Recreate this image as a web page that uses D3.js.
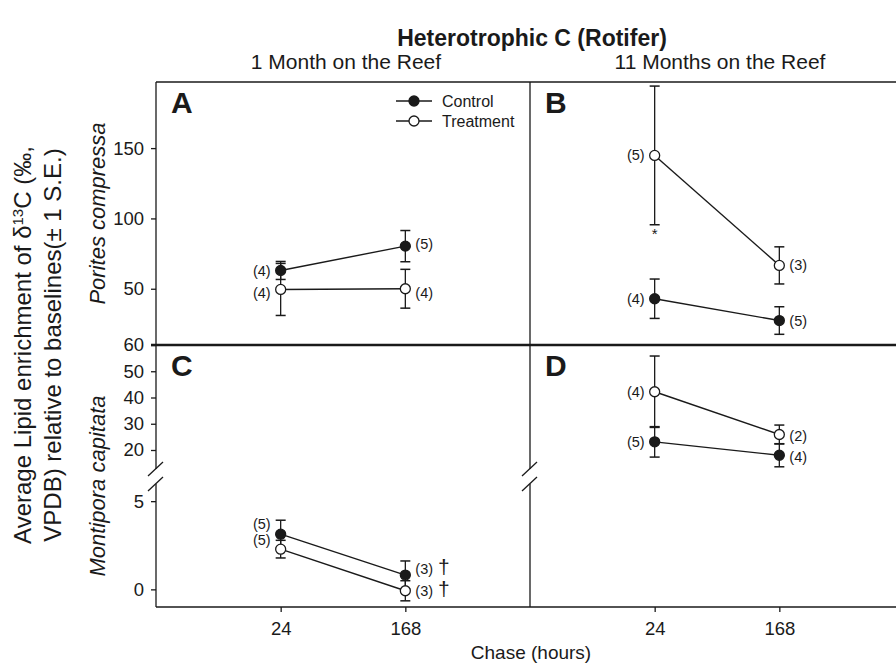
<!DOCTYPE html>
<html>
<head>
<meta charset="utf-8">
<script src="https://cdn.jsdelivr.net/npm/d3@7"></script>
<style>
    body { margin: 0; background: #fff; }
    text { font-family: "Liberation Sans", Arial, Helvetica, sans-serif; fill: #1a1a1a; }
</style>
</head>
<body>
<svg id="chart" width="896" height="666"></svg>
<script>
'use strict';

// chase time categories (hours)
const chaseHours = ["24", "168"];

// A - Porites compressa, 1 month on the reef
const ctrlA = [63.0, 80.3];
const ctrlSeA = [6.4, 11.1];
const trtA = [49.5, 50.0];
const trtSeA = [18.5, 13.8];
const nCtrlA = ["(4)", "(5)"];
const nTrtA = ["(4)", "(4)"];

// B - Porites compressa, 11 months on the reef
const ctrlB = [42.9, 27.4];
const ctrlSeB = [14.0, 9.8];
const trtB = [144.8, 66.6];
const trtSeB = [49.3, 13.2];
const nCtrlB = ["(4)", "(5)"];
const nTrtB = ["(5)", "(3)"];

// C - Montipora capitata, 1 month on the reef
const ctrlC = [3.13, 0.81];
const ctrlSeC = [0.79, 0.80];
const trtC = [2.28, -0.08];
const trtSeC = [0.50, 0.57];
const nCtrlC = ["(5)", "(3) †"];
const nTrtC = ["(5)", "(3) †"];

// D - Montipora capitata, 11 months on the reef
const ctrlD = [23.1, 18.0];
const ctrlSeD = [5.8, 4.4];
const trtD = [42.2, 25.9];
const trtSeD = [13.6, 3.6];
const nCtrlD = ["(5)", "(4)"];
const nTrtD = ["(4)", "(2)"];

// y tick values
const topTicks = [50, 100, 150];
const upperTicks = [20, 30, 40, 50, 60];
const lowerTicks = [0, 5];

const panelLetters = ["A", "B", "C", "D"];
const columnTitles = ["1 Month on the Reef", "11 Months on the Reef"];
const seriesNames = ["Control", "Treatment"];

// layout
const edgeL = 156, edgeM = 530, edgeR = 904;
const edgeT = 82, edgeS = 345, edgeB = 607;
const breakHi = 469, breakLo = 484;
const ink = "#1a1a1a";

const svg = d3.select("#chart");

// scales
const xLeft = d3.scalePoint().domain(chaseHours).range([edgeL, edgeM]).padding(1);
const xRight = d3.scalePoint().domain(chaseHours).range([edgeM, edgeR]).padding(1);
const yTop = d3.scaleLinear().domain([10, 197]).range([edgeS, edgeT]);
const yUpper = d3.scaleLinear().domain([12, 60]).range([471, edgeS]);
const yLower = d3.scaleLinear().domain([-1, 6.2]).range([edgeB, 480]);

// small vertical nudges for the (n) labels, [control, treatment] per panel
const labelNudge = {
    A: [[0, -2], [3, 4]],
    B: [[0, 0], [0, 0]],
    C: [[-10, -6], [-9, 0]],
    D: [[0, 2], [0, 1]]
};

function drawSeries(g, x, y, mean, se, filled, labels, nudge) {
    let pts = chaseHours.map((h, i) => ({h: h, i: i, v: mean[i], se: se[i]}));

    g.append("path")
        .datum(pts)
        .attr("d", d3.line().x(d => x(d.h)).y(d => y(d.v)))
        .style("fill", "none")
        .style("stroke", ink)
        .style("stroke-width", 1.4);

    // error bars
    pts.forEach(d => {
        let cx = x(d.h);
        let y1 = y(d.v + d.se), y2 = y(d.v - d.se);
        g.append("line").attr("x1", cx).attr("x2", cx).attr("y1", y1).attr("y2", y2)
            .style("stroke", ink).style("stroke-width", 1.3);
        [y1, y2].forEach(yy => {
            g.append("line").attr("x1", cx - 5).attr("x2", cx + 5).attr("y1", yy).attr("y2", yy)
                .style("stroke", ink).style("stroke-width", 1.5);
        });
    });

    g.selectAll(null).data(pts).enter().append("circle")
        .attr("cx", d => x(d.h))
        .attr("cy", d => y(d.v))
        .attr("r", 5)
        .style("fill", filled ? ink : "#fff")
        .style("stroke", ink)
        .style("stroke-width", 1.3);

    // sample size labels: left of the 24 h point, right of the 168 h point
    pts.forEach(d => {
        let onLeft = d.i === 0;
        let parts = labels[d.i].split(" ");
        let t = g.append("text")
            .attr("x", x(d.h) + (onLeft ? -10 : 10))
            .attr("y", y(d.v) + nudge[d.i])
            .attr("dy", "0.35em")
            .attr("text-anchor", onLeft ? "end" : "start")
            .style("font-size", "14.5px");
        t.append("tspan").text(parts[0]);
        if (parts[1]) {
            t.append("tspan").attr("dx", 5).style("font-size", "21px").text(parts[1]);
        }
    });
}

function panel(key, x, y, ctrl, ctrlSe, trt, trtSe, nCtrl, nTrt) {
    let g = svg.append("g").attr("class", "panel-" + key);
    drawSeries(g, x, y, ctrl, ctrlSe, true, nCtrl, labelNudge[key][0]);
    drawSeries(g, x, y, trt, trtSe, false, nTrt, labelNudge[key][1]);
    return g;
}

// frame lines
const frame = svg.append("g");
function hline(x1, x2, yy, w) {
    frame.append("line").attr("x1", x1).attr("x2", x2).attr("y1", yy).attr("y2", yy)
        .style("stroke", ink).style("stroke-width", w);
}
function vline(xx, y1, y2, w) {
    frame.append("line").attr("x1", xx).attr("x2", xx).attr("y1", y1).attr("y2", y2)
        .style("stroke", ink).style("stroke-width", w);
}
hline(edgeL, 896, edgeT, 1.3);
hline(edgeL, 896, edgeB, 1.3);
hline(edgeL - 5, 896, edgeS, 2.4);
vline(edgeL, edgeT, breakHi, 1.3);
vline(edgeL, breakLo, edgeB, 1.3);
vline(edgeM, edgeT, breakHi, 1.3);
vline(edgeM, breakLo, edgeB, 1.3);

// axis break marks
[edgeL, edgeM].forEach(xx => {
    [breakHi, breakLo].forEach(yy => {
        frame.append("line")
            .attr("x1", xx - 8).attr("y1", yy + 7)
            .attr("x2", xx + 7).attr("y2", yy - 7)
            .style("stroke", ink).style("stroke-width", 1.3);
    });
});

// axes
function styleAxis(g) {
    g.select(".domain").remove();
    g.selectAll(".tick line").style("stroke", ink).style("stroke-width", 1.3);
    g.selectAll(".tick text").style("font-size", "18.5px").style("fill", ink)
        .style("font-family", "'Liberation Sans', Arial, sans-serif");
}
svg.append("g").attr("transform", `translate(${edgeL},0)`)
    .call(d3.axisLeft(yTop).tickValues(topTicks).tickSize(5).tickPadding(7)).call(styleAxis);
svg.append("g").attr("transform", `translate(${edgeL},0)`)
    .call(d3.axisLeft(yUpper).tickValues(upperTicks).tickSize(5).tickPadding(7)).call(styleAxis);
svg.append("g").attr("transform", `translate(${edgeL},0)`)
    .call(d3.axisLeft(yLower).tickValues(lowerTicks).tickSize(5).tickPadding(7)).call(styleAxis);
[xLeft, xRight].forEach(x => {
    svg.append("g").attr("transform", `translate(0,${edgeB})`)
        .call(d3.axisBottom(x).tickSize(5).tickPadding(10)).call(styleAxis);
});

// data panels
panel("A", xLeft, yTop, ctrlA, ctrlSeA, trtA, trtSeA, nCtrlA, nTrtA);
let gB = panel("B", xRight, yTop, ctrlB, ctrlSeB, trtB, trtSeB, nCtrlB, nTrtB);
panel("C", xLeft, yLower, ctrlC, ctrlSeC, trtC, trtSeC, nCtrlC, nTrtC);
panel("D", xRight, yUpper, ctrlD, ctrlSeD, trtD, trtSeD, nCtrlD, nTrtD);

// significance star under treatment 24 h in B
gB.append("text")
    .attr("x", xRight(chaseHours[0]))
    .attr("y", yTop(trtB[0] - trtSeB[0]) + 14)
    .attr("text-anchor", "middle")
    .style("font-size", "15px")
    .text("*");

// panel letters
[[edgeL, edgeT], [edgeM, edgeT], [edgeL, edgeS], [edgeM, edgeS]].forEach((p, i) => {
    svg.append("text")
        .attr("x", p[0] + 15)
        .attr("y", p[1] + 31)
        .style("font-size", "30px")
        .style("font-weight", "bold")
        .text(panelLetters[i]);
});

// legend
const legend = svg.append("g").attr("transform", "translate(396,101)");
seriesNames.forEach((name, i) => {
    let row = legend.append("g").attr("transform", `translate(0,${i * 20})`);
    row.append("line").attr("x1", 0).attr("x2", 36)
        .style("stroke", ink).style("stroke-width", 1.4);
    row.append("circle").attr("cx", 18).attr("r", 5)
        .style("fill", i === 0 ? ink : "#fff")
        .style("stroke", ink).style("stroke-width", 1.3);
    row.append("text").attr("x", 46).attr("dy", "0.35em")
        .style("font-size", "16px").text(name);
});

// titles
svg.append("text")
    .attr("x", 532).attr("y", 46)
    .attr("text-anchor", "middle")
    .style("font-size", "23px")
    .style("font-weight", "bold")
    .text("Heterotrophic C (Rotifer)");
[xLeft, xRight].forEach((x, i) => {
    let r = x.range();
    svg.append("text")
        .attr("x", (r[0] + r[1]) / 2 + 3)
        .attr("y", 69)
        .attr("text-anchor", "middle")
        .style("font-size", "21px")
        .text(columnTitles[i]);
});

// x axis title
svg.append("text")
    .attr("x", 531).attr("y", 659)
    .attr("text-anchor", "middle")
    .style("font-size", "19px")
    .text("Chase (hours)");

// species labels
[["Porites compressa", (edgeT + edgeS) / 2], ["Montipora capitata", (edgeS + edgeB) / 2 + 10]].forEach(s => {
    svg.append("text")
        .attr("transform", `translate(105,${s[1]}) rotate(-90)`)
        .attr("text-anchor", "middle")
        .style("font-size", "22px")
        .style("font-style", "italic")
        .text(s[0]);
});

// y axis title (two lines)
const yt = svg.append("text")
    .attr("transform", "translate(31,345) rotate(-90)")
    .attr("text-anchor", "middle")
    .style("font-size", "24px");
yt.append("tspan").text("Average Lipid enrichment of δ");
yt.append("tspan").attr("baseline-shift", "super").style("font-size", "15px").text("13");
yt.append("tspan").text("C (‰,");
svg.append("text")
    .attr("transform", "translate(61,345) rotate(-90)")
    .attr("text-anchor", "middle")
    .style("font-size", "24px")
    .text("VPDB) relative to baselines(± 1 S.E.)");
</script>
</body>
</html>
